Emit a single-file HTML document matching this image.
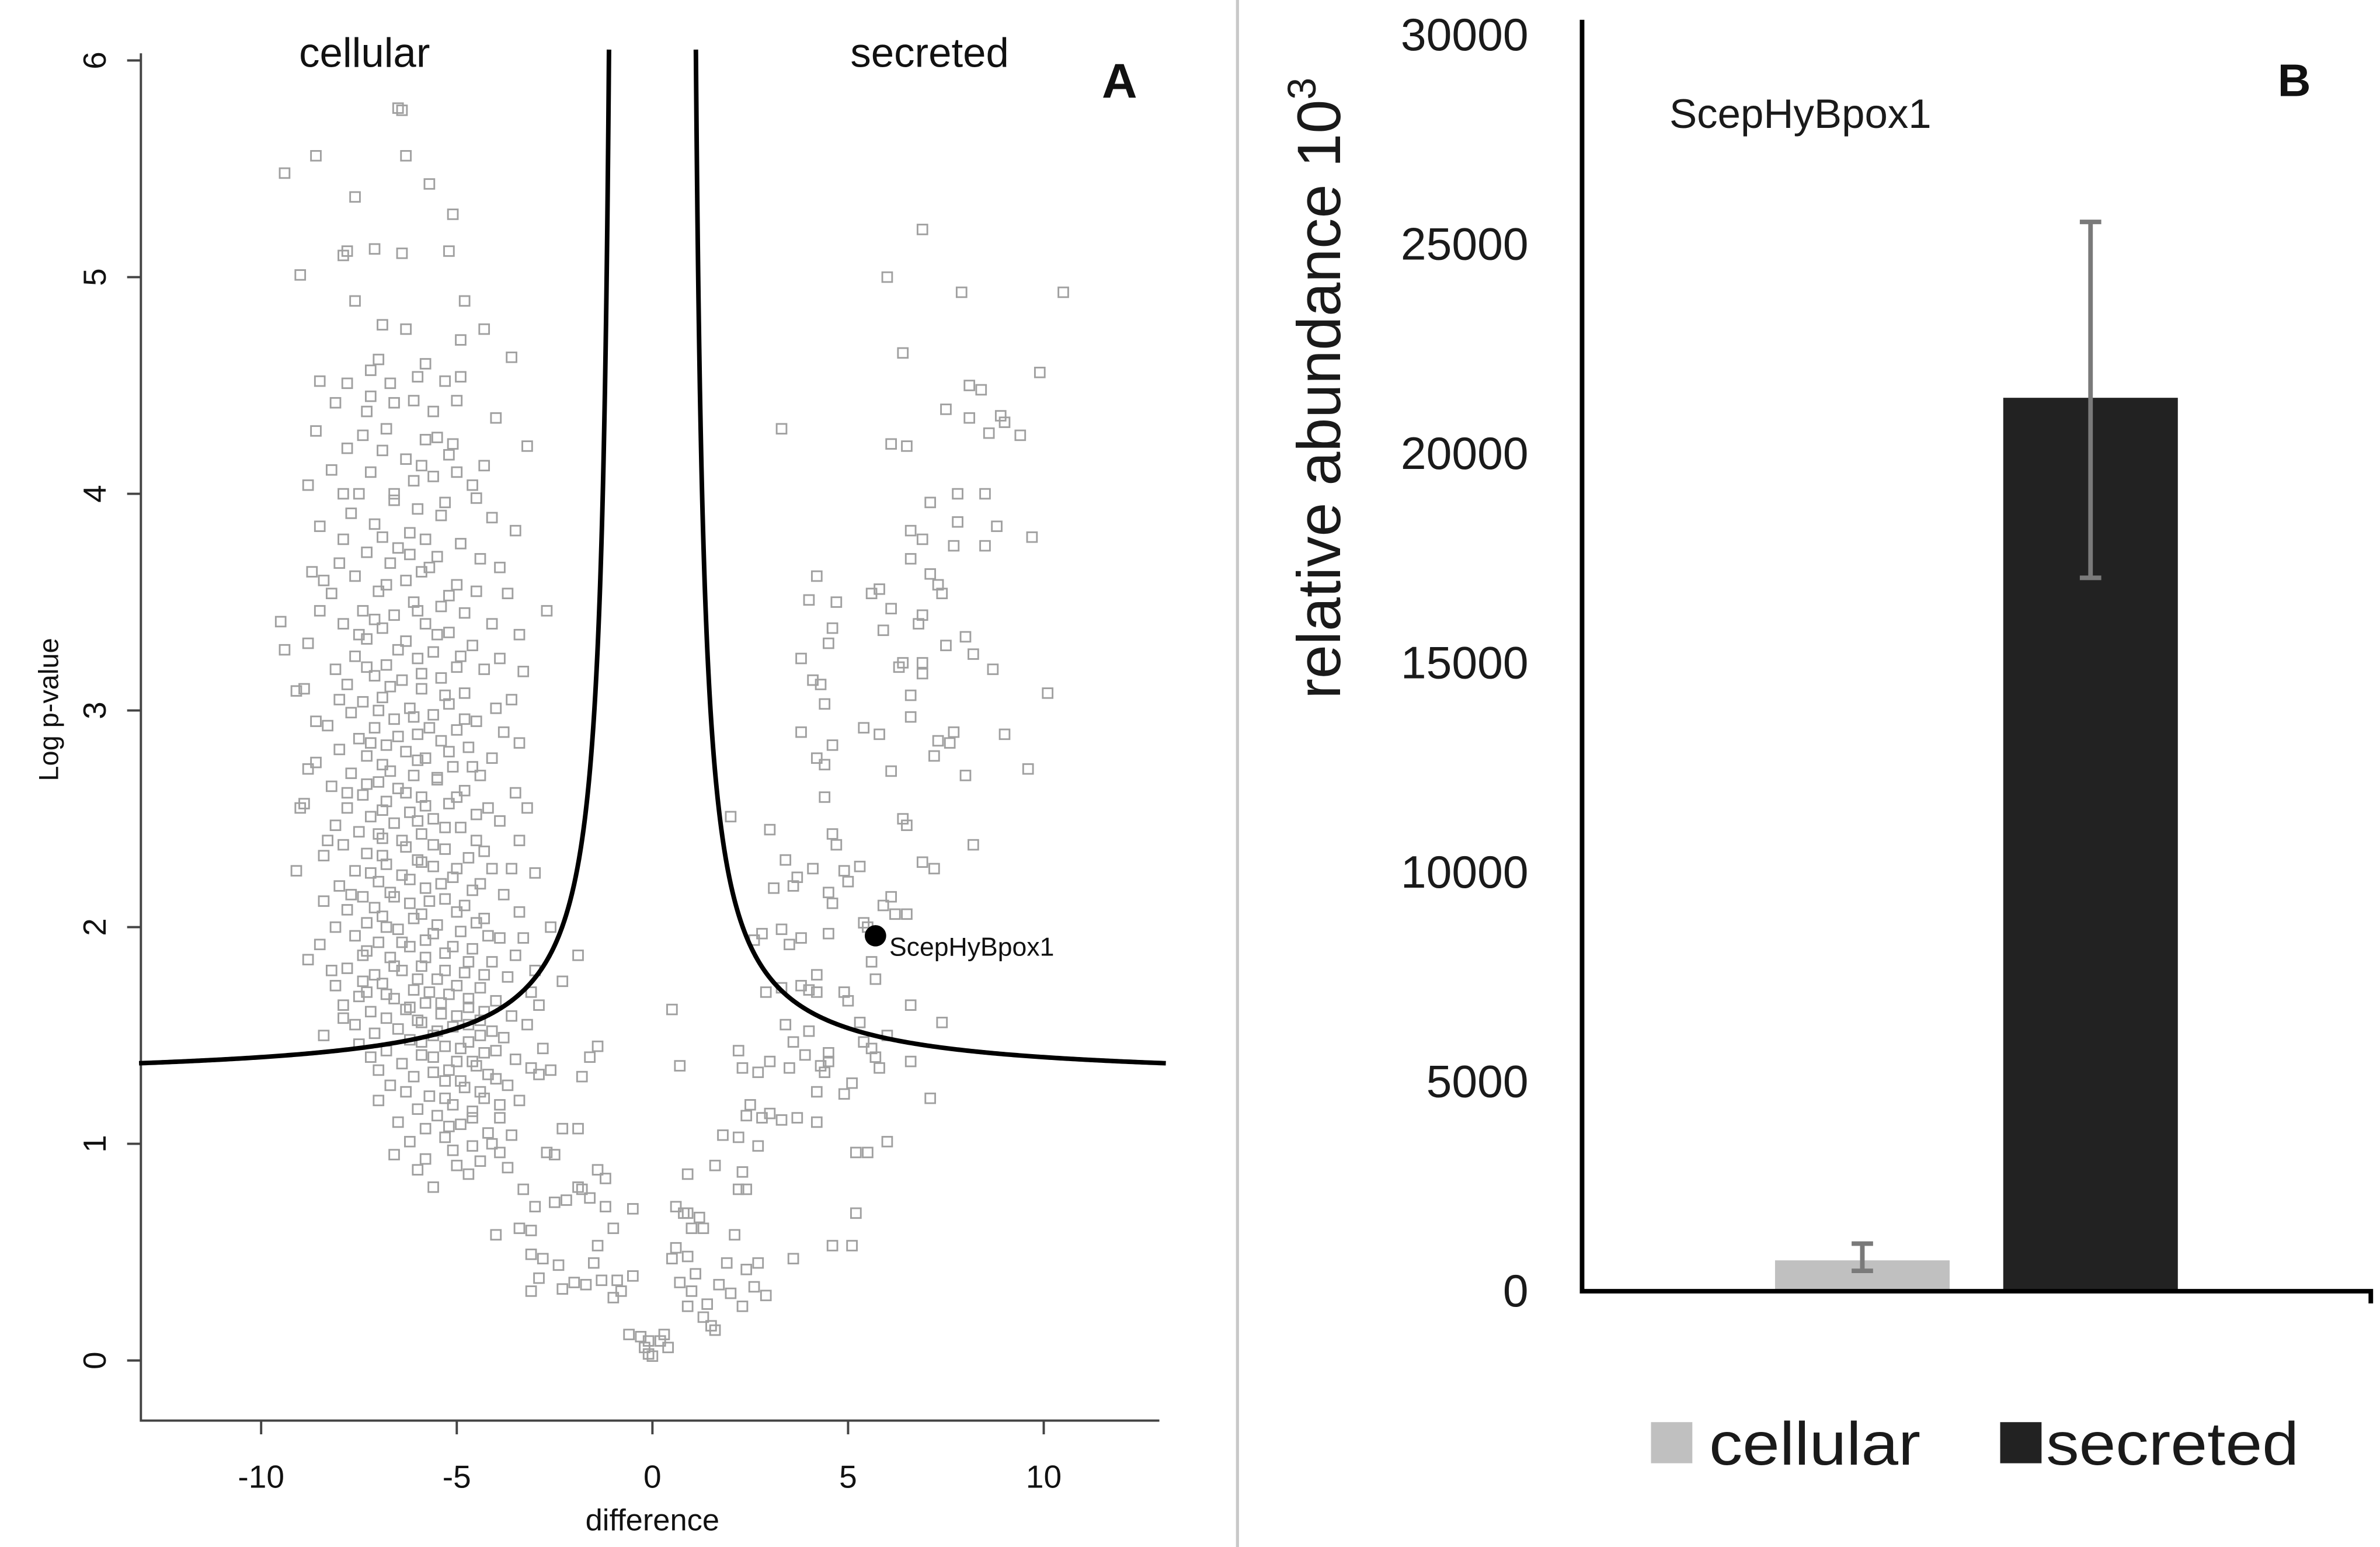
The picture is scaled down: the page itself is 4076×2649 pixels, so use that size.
<!DOCTYPE html>
<html><head><meta charset="utf-8">
<style>
html,body{margin:0;padding:0;background:#fff;}
svg{display:block;}
text{font-family:"Liberation Sans","DejaVu Sans",sans-serif;}
</style></head>
<body>
<svg id="fig" width="4076" height="2649" viewBox="0 0 1554 1016" preserveAspectRatio="none" xmlns="http://www.w3.org/2000/svg">
<rect width="1554" height="1016" fill="#fff"/>
<line x1="808" y1="0" x2="808" y2="1016" stroke="#c8c8c8" stroke-width="2"/>
<g id="panelA"></g>
<g id="panelB"></g>
</svg>
<script>
// ---------- Panel A data ----------
const xTicksA = [-10, -5, 0, 5, 10];
const yTicksA = [0, 1, 2, 3, 4, 5, 6];
const cellularPts = [
[-6.5,5.78],[-6.4,5.77],[-8.6,5.56],[-9.4,5.48],[-6.3,5.56],[-5.7,5.43],[-7.6,5.37],[-5.1,5.29],[-7.8,5.12],[-7.1,5.13],[-6.4,5.11],[-5.2,5.12],[-7.9,5.10],[-9.0,5.01],
[-4.8,4.89],[-7.6,4.89],[-6.9,4.78],[-6.3,4.76],[-4.3,4.76],[-4.9,4.71],[-3.6,4.63],[-7.0,4.62],[-7.2,4.57],[-5.8,4.60],[-6.0,4.54],[-8.5,4.52],[-6.7,4.51],[-5.3,4.52],[-4.9,4.54],[-7.8,4.51],[-6.1,4.43],[-5.0,4.43],[-8.1,4.42],[-6.6,4.42],[-5.6,4.38],[-7.3,4.38],
[-6.8,4.30],[-8.6,4.29],[-7.4,4.27],[-7.8,4.21],[-6.9,4.20],[-5.5,4.26],[-5.1,4.23],[-3.2,4.22],[-6.3,4.16],[-5.9,4.13],[-4.3,4.13],[-7.2,4.10],[-5.2,4.18],[-5.6,4.08],[-8.2,4.11],[-6.1,4.06],[-4.6,4.04],[-8.8,4.04],[-7.5,4.00],[-6.6,3.97],[-5.3,3.96],[-4.5,3.98],[-6.0,3.93],[-7.7,3.91],[-5.4,3.90],[-4.1,3.89],
[-7.1,3.86],[-6.2,3.82],[-8.5,3.85],[-6.9,3.80],[-5.8,3.79],[-7.9,3.79],[-3.5,3.83],[-4.9,3.77],[-6.5,3.75],[-7.3,3.73],[-5.5,3.71],[-4.4,3.70],[-6.7,3.68],[-8.0,3.68],[-3.9,3.66],[-5.9,3.64],[-7.6,3.62],[-8.7,3.64],[-6.3,3.60],[-5.0,3.58],[-4.5,3.55],[-7.0,3.55],[-8.2,3.54],[-3.7,3.54],[-6.1,3.50],[-5.4,3.48],[-7.4,3.46],[-4.8,3.45],[-6.6,3.44],[-8.5,3.46],[-2.7,3.46],
[-9.5,3.41],[-7.9,3.40],[-5.8,3.40],[-4.1,3.40],[-6.9,3.38],[-5.2,3.36],[-7.3,3.33],[-6.3,3.32],[-8.8,3.31],[-4.6,3.30],[-9.4,3.28],[-5.6,3.27],[-7.6,3.25],[-6.0,3.24],[-3.9,3.24],[-6.8,3.21],[-5.0,3.20],[-8.1,3.19],[-4.3,3.19],[-7.1,3.16],[-5.4,3.15],[-6.4,3.14],[-3.3,3.18],[-7.8,3.12],[-8.9,3.10],[-9.1,3.09],[-5.9,3.10],[-4.8,3.08],[-6.9,3.06],[-7.4,3.04],[-5.2,3.03],[-6.2,3.01],[-4.0,3.01],
[-7.7,2.99],[-5.6,2.98],[-6.6,2.96],[-4.5,2.95],[-8.3,2.93],[-7.1,2.92],[-5.0,2.91],[-6.0,2.89],[-3.8,2.90],[-7.5,2.87],[-5.4,2.86],[-6.8,2.84],[-4.7,2.83],[-8.0,2.82],[-6.3,2.81],[-7.3,2.79],[-5.8,2.78],[-4.1,2.78],[-8.6,2.76],[-6.9,2.75],[-5.1,2.74],[-8.8,2.73],[-7.7,2.71],[-6.1,2.70],[-4.4,2.70],[-5.5,2.68],[-7.0,2.67],[-8.2,2.65],[-6.5,2.64],[-4.8,2.63],[-3.5,2.62],[-7.4,2.61],[-5.9,2.60],[-6.8,2.58],[-5.2,2.57],[-8.9,2.57],[-7.8,2.55],[-4.2,2.55],[-6.2,2.53],[-7.2,2.51],[-5.6,2.50],[-3.9,2.49],[-6.6,2.48],[-8.1,2.47],[-4.9,2.46],[-7.5,2.44],[-5.9,2.43],[-6.9,2.41],[-4.5,2.40],[-3.4,2.40],
[-7.9,2.38],[-6.3,2.37],[-5.3,2.36],[-7.3,2.34],[-8.4,2.33],[-4.7,2.32],[-6.0,2.31],[-6.8,2.29],[-5.6,2.28],[-4.1,2.27],[-9.1,2.26],[-7.6,2.26],[-3.6,2.27],[-6.4,2.24],[-5.1,2.23],[-7.0,2.21],[-4.4,2.20],[-8.0,2.19],[-5.8,2.18],[-6.7,2.16],[-3.8,2.15],[-7.4,2.14],[-5.3,2.13],[-8.4,2.12],[-6.2,2.11],[-4.8,2.10],[-7.8,2.08],[-3.4,2.07],[-5.9,2.06],[-6.9,2.05],[-4.3,2.04],[-7.3,2.02],[-5.5,2.01],[-8.1,2.00],[-2.6,2.00],[-6.5,1.99],[-4.9,1.98],[-7.6,1.96],[-3.9,1.95],[-5.8,1.94],[-7.0,1.93],[-8.5,1.92],[-6.2,1.91],[-4.6,1.90],[-5.3,1.88],[-7.4,1.87],[-3.5,1.87],[-6.7,1.86],[-8.8,1.85],[-4.1,1.84],[-5.9,1.82],[-7.8,1.81],[-6.4,1.80],[-4.8,1.79],[-7.1,1.78],[-3.7,1.77],[-5.5,1.76],[-6.9,1.74],[-8.1,1.73],[-4.4,1.72],[-6.1,1.71],[-3.1,1.70],[-5.2,1.69],[-7.5,1.68],[-6.6,1.67],[-4.0,1.66],[-5.8,1.65],[-7.9,1.64],[-2.9,1.64],[-4.7,1.63],[-6.3,1.62],[-7.2,1.61],[-5.4,1.60],[-3.6,1.59],[-6.8,1.58],[-4.4,1.57],[-5.9,1.56],[-7.6,1.55],[-3.2,1.55],[-5.1,1.54],[-6.5,1.53],[-4.1,1.52],[-7.1,1.51],[-5.6,1.50],[-8.4,1.50],[-3.8,1.49],[-6.2,1.48],[-4.7,1.47],[-7.5,1.46],[-5.3,1.45],[-2.8,1.44],
[-6.8,1.43],[-4.3,1.42],[-5.9,1.41],[-7.2,1.40],[-3.5,1.39],[-5.0,1.38],[-6.4,1.37],[-4.5,1.36],[-7.0,1.34],[-3.1,1.35],[-5.6,1.33],[-6.1,1.31],[-4.0,1.30],[-5.3,1.29],[-6.7,1.27],[-3.7,1.27],[-4.8,1.26],[-6.3,1.24],[-5.7,1.22],[-4.3,1.21],[-7.0,1.20],[-3.4,1.20],[-5.1,1.18],[-6.0,1.16],[-4.6,1.15],[-5.5,1.13],[-3.9,1.12],[-6.5,1.10],[-4.9,1.09],[-5.8,1.07],[-4.2,1.05],[-3.6,1.04],[-5.3,1.03],[-6.2,1.01],[-4.6,0.99],[-5.1,0.97],[-3.9,0.96],[-6.6,0.95],[-5.8,0.93],[-4.4,0.92],[-5.0,0.90],[-3.7,0.89],[-6.0,0.88],[-4.7,0.86],[-5.6,0.80],[-3.3,0.79]
];
const cellularPts2 = [
[-6.2,3.72],[-5.7,3.66],[-6.8,3.58],[-5.2,3.53],[-6.0,3.46],[-7.1,3.42],[-5.5,3.35],[-6.5,3.28],[-4.9,3.25],[-7.3,3.20],[-5.9,3.17],[-6.7,3.11],[-5.3,3.07],[-7.0,3.00],[-6.1,2.97],[-4.8,2.96],[-5.7,2.92],[-6.5,2.88],[-7.2,2.85],[-5.2,2.81],[-6.0,2.77],[-4.6,2.74],[-6.7,2.72],[-5.5,2.69],[-7.3,2.66],[-6.3,2.62],[-5.0,2.60],[-5.8,2.56],[-6.9,2.54],[-4.5,2.52],[-6.0,2.49],[-5.3,2.46],[-7.0,2.43],[-6.4,2.40],[-5.6,2.38],[-4.3,2.35],[-6.9,2.33],[-5.9,2.30],[-5.0,2.27],[-7.2,2.25],[-6.2,2.22],[-5.4,2.20],[-4.6,2.17],[-6.6,2.14],[-5.7,2.12],[-7.1,2.09],[-5.0,2.07],[-6.1,2.04],[-4.5,2.02],[-6.8,2.00],[-5.6,1.97],[-4.2,1.96],[-6.4,1.93],[-5.1,1.91],[-7.3,1.89],[-5.8,1.86],[-4.7,1.84],[-6.6,1.82],[-5.3,1.80],[-4.3,1.78],[-6.0,1.76],[-7.4,1.75],[-5.0,1.73],[-5.7,1.70],[-6.8,1.69],[-4.7,1.67],[-5.4,1.65],[-6.2,1.63],[-4.3,1.61],[-5.0,1.59],[-6.0,1.57],[-4.7,1.55],[-5.5,1.52],[-4.4,1.50],[-5.9,1.47],[-4.9,1.44],[-4.0,1.43],[-5.6,1.40],[-4.6,1.38],[-5.2,1.34],[-4.2,1.32],[-4.9,1.29],[-4.4,1.24],[-5.3,1.21],[-3.9,1.18],[-4.6,1.12],[-5.2,1.08],[-4.1,1.00],
[-7.5,3.35],[-8.0,3.05],[-7.8,2.62],[-8.3,2.40],[-7.7,2.15],[-8.2,1.80],[-7.3,1.70],[-7.9,1.58],[-3.4,2.85],[-3.2,2.55],[-3.0,2.25],[-3.3,1.95],[-3.0,1.80],[-3.6,3.05],[-3.4,3.35],[-8.6,2.95],[-9.0,2.55],[-8.4,3.60],[-7.9,4.00],[-4.0,4.35],[-6.6,4.00],[-5.0,4.10],[-7.2,4.45],[-5.8,4.25]
];
const secretedPts = [
[6.9,5.22],[6.0,5.00],[10.5,4.93],[7.9,4.93],[6.4,4.65],[9.9,4.56],[8.1,4.50],[8.4,4.48],[7.5,4.39],[8.9,4.36],[9.0,4.33],[8.1,4.35],[3.3,4.30],[9.4,4.27],[8.6,4.28],[6.1,4.23],[6.5,4.22],
[7.1,3.96],[7.8,4.00],[8.5,4.00],[7.8,3.87],[8.8,3.85],[6.6,3.83],[7.7,3.76],[8.5,3.76],[9.7,3.80],[6.9,3.79],[7.1,3.63],[7.3,3.58],[4.2,3.62],[6.6,3.70],[5.8,3.56],[5.6,3.54],[7.4,3.54],[4.0,3.51],[4.7,3.50],[6.1,3.47],[6.9,3.44],[6.8,3.40],[4.6,3.38],[5.9,3.37],[8.0,3.34],[7.5,3.30],[4.5,3.31],[8.2,3.26],[6.4,3.22],[3.8,3.24],[6.9,3.22],[6.3,3.20],[8.7,3.19],[6.9,3.17],[4.1,3.14],[4.3,3.12],[6.6,3.07],[10.1,3.08],[4.4,3.03],[6.6,2.97],[5.4,2.92],[5.8,2.89],[3.8,2.90],[9.0,2.89],[7.7,2.90],[7.3,2.86],[7.6,2.85],[4.6,2.84],[7.2,2.79],[4.2,2.78],[4.4,2.75],[6.1,2.72],[8.0,2.70],[9.6,2.73],[4.4,2.60],[2.0,2.51],[6.4,2.50],[6.5,2.47],[3.0,2.45],[4.6,2.43],[4.7,2.38],[8.2,2.38],[6.9,2.30],[3.4,2.31],[5.3,2.28],[4.1,2.27],[4.9,2.26],[7.2,2.27],[5.0,2.21],[3.6,2.19],[3.1,2.18],[4.5,2.16],[3.7,2.23],[6.1,2.14],[5.9,2.10],[4.6,2.11],[6.2,2.06],[6.5,2.06],[5.4,2.02],[5.5,2.00],[2.8,1.97],[3.3,1.99],[4.5,1.97],[2.6,1.94],[3.8,1.95],[3.5,1.92],[5.6,1.84],[4.2,1.78],[5.7,1.76],[3.8,1.73],[3.3,1.72],[4.0,1.71],[2.9,1.70],[4.2,1.70],[4.9,1.70],[5.0,1.66],[6.6,1.64],[5.3,1.56],[3.4,1.55],[7.4,1.56],[4.0,1.52],[5.4,1.47],[6.0,1.50],[3.6,1.47],[4.5,1.42],[5.6,1.44],[2.2,1.43],[3.9,1.41],[5.7,1.40],[3.0,1.38],[4.5,1.38],[5.8,1.35],[6.6,1.38],[4.3,1.36],[2.3,1.35],[3.5,1.35],[4.4,1.33],[2.7,1.33],[5.1,1.28],[4.2,1.24],[4.9,1.23],[7.1,1.21],[2.5,1.18],[3.0,1.14],[2.4,1.13],[3.7,1.12],[2.8,1.12],[3.3,1.11],[4.2,1.10],[2.2,1.03],[6.0,1.01],[5.2,0.96],[5.5,0.96],[5.2,0.68],[4.6,0.53],[5.1,0.53],[3.6,0.47]
];
const centerPts = [
[-2.7,0.96],[-2.3,1.07],[-1.9,1.07],[-2.5,0.95],[-1.4,0.88],[-1.2,0.84],[-2.2,0.74],[-1.9,0.80],[-1.8,0.79],[-1.6,0.75],[-3.0,0.71],[-2.5,0.73],[-1.2,0.71],[-3.4,0.61],[-3.1,0.60],[-4.0,0.58],[-0.5,0.70],[-1.0,0.61],[-0.5,0.39],[-1.5,0.45],[-1.4,0.53],[-2.8,0.47],[-3.1,0.49],[-2.4,0.44],[-1.3,0.37],[-0.9,0.37],[-2.0,0.36],[-1.7,0.35],[-2.3,0.33],[-2.9,0.38],[-3.1,0.32],[-1.0,0.29],[-0.8,0.32],[-0.3,0.11],[-0.6,0.12],[-0.1,0.09],[-0.2,0.06],[0.0,0.02],[-0.1,0.03],[0.2,0.09],[0.3,0.12],[0.4,0.06],[0.6,0.71],[1.0,0.61],[0.8,0.68],[1.2,0.66],[1.3,0.61],[0.5,0.47],[1.1,0.40],[0.9,0.48],[0.7,0.36],[1.0,0.32],[0.9,0.25],[1.4,0.26],[1.7,0.35],[1.3,0.20],[1.6,0.14],[1.5,0.16],[2.0,0.31],[2.3,0.25],[2.4,0.42],[2.6,0.34],[2.9,0.30],[2.1,0.58],[2.7,0.45],[1.9,0.45],[2.2,0.79],[2.4,0.79],[1.6,0.90],[1.8,1.04],[2.3,0.87],[2.7,0.99],[0.9,0.86],[0.5,1.62],[0.7,1.36],[0.9,0.68],[0.6,0.52],[-2.3,1.75],[-1.4,1.45],[-1.6,1.40],[-1.8,1.31],[-2.6,1.34],[-2.9,1.32],[-1.9,1.87]
];
const highlightPt = [5.7, 1.96];
const highlightLabel = "ScepHyBpox1";
const curveA = 1.29, curveB = 1.0, curveX0 = 0.9;

// ---------- Panel B data ----------
const barCategories = ["cellular", "secreted"];
const barValues = [700, 21300];
const barErrLow = [450, 17000];
const barErrHigh = [1100, 25500];
const barColors = ["#c0c0c0", "#222222"];
const yTicksB = [0, 5000, 10000, 15000, 20000, 25000, 30000];

const NS = "http://www.w3.org/2000/svg";
function mk(tag, attrs, parent, text){
  const e = document.createElementNS(NS, tag);
  for (const k in attrs) e.setAttribute(k, attrs[k]);
  if (text !== undefined) e.textContent = text;
  parent.appendChild(e);
  return e;
}
// ===== Panel A =====
const A = document.getElementById('panelA');
const ax = v => 426 + v * 25.55;
const ay = v => 893.5 - v * 142.3;
let e;
e = mk('path', {d:'M92,35 L92,933 L757,933', fill:'none', stroke:'#444', 'stroke-width':1.5}, A);


xTicksA.forEach(t => {
  e = mk('line', {x1:ax(t), y1:933, x2:ax(t), y2:942, stroke:'#444', 'stroke-width':1.5}, A);
  
  
  e = mk('text', {x:ax(t), y:977, 'font-size':21, 'text-anchor':'middle', fill:'#111'}, A, String(t));
  
  
});
yTicksA.forEach(t => {
  e = mk('line', {x1:83, y1:ay(t), x2:92, y2:ay(t), stroke:'#444', 'stroke-width':1.5}, A);
  
  
  e = mk('text', {x:0, y:0, 'font-size':21, 'text-anchor':'middle', fill:'#111', transform:`translate(69,${ay(t)}) rotate(-90)`}, A, String(t));
  
  
});
e = mk('text', {x:0, y:0, 'font-size':18, 'text-anchor':'middle', fill:'#111', transform:'translate(38,466) rotate(-90)'}, A, 'Log p-value');


e = mk('text', {x:426, y:1005, 'font-size':20, 'text-anchor':'middle', fill:'#111'}, A, 'difference');


e = mk('text', {x:238, y:44, 'font-size':27, 'text-anchor':'middle', fill:'#111'}, A, 'cellular');


e = mk('text', {x:607, y:44, 'font-size':27, 'text-anchor':'middle', fill:'#111'}, A, 'secreted');


e = mk('text', {x:731, y:64, 'font-size':32, 'font-weight':'bold', 'text-anchor':'middle', fill:'#111'}, A, 'A');


const pts = mk('g', {fill:'none', stroke:'#a0a0a0', 'stroke-width':1.1}, A);


[cellularPts, cellularPts2, secretedPts, centerPts].forEach(arr => arr.forEach(p => {
  e = mk('rect', {x:ax(p[0]) - 3.2, y:ay(p[1]) - 3.2, width:6.4, height:6.4}, pts);
  
  
}));
function curvePath(sign){
  let d = '';
  let first = true;
  for (let i = 0; i <= 400; i++){
    const xv = curveX0 + 0.02 + Math.pow(i / 400, 2) * 12.2;
    const yv = curveA + curveB / (xv - curveX0);
    if (yv > 6.05) continue;
    d += (first ? 'M' : 'L') + ax(sign * xv).toFixed(2) + ',' + ay(yv).toFixed(2);
    first = false;
  }
  const xTop = curveX0 + curveB / (6.05 - curveA);
  d = 'M' + ax(sign * xTop).toFixed(2) + ',' + ay(6.05).toFixed(2) + d.replace(/^M/, 'L');
  return d;
}
e = mk('path', {d:curvePath(-1), fill:'none', stroke:'#000', 'stroke-width':3}, A);


e = mk('path', {d:curvePath(1), fill:'none', stroke:'#000', 'stroke-width':3}, A);


e = mk('circle', {cx:ax(highlightPt[0]), cy:ay(highlightPt[1]), r:7, fill:'#000'}, A);


e = mk('text', {x:ax(highlightPt[0]) + 9, y:ay(highlightPt[1]) + 13, 'font-size':17, fill:'#111'}, A, highlightLabel);



// ===== Panel B =====
const B = document.getElementById('panelB');
const by = v => 847 - v / 5000 * 137.5;
const barX = [1159, 1308];
const barW = 114;
yTicksB.forEach(t => {
  e = mk('text', {x:998, y:by(t) + 11, 'font-size':30, 'text-anchor':'end', fill:'#1a1a1a'}, B, String(t));
  
  
});
barValues.forEach((v, i) => {
  e = mk('rect', {x:barX[i], y:by(v), width:barW, height:by(0) - by(v), fill:barColors[i]}, B);
  
  
  const cx = barX[i] + barW / 2;
  e = mk('path', {d:`M${cx},${by(barErrLow[i])} L${cx},${by(barErrHigh[i])} M${cx-7},${by(barErrLow[i])} L${cx+7},${by(barErrLow[i])} M${cx-7},${by(barErrHigh[i])} L${cx+7},${by(barErrHigh[i])}`, stroke:'#7a7a7a', 'stroke-width':3, fill:'none'}, B);
  
  
});
e = mk('path', {d:'M1033,13 L1033,848 L1548,848 L1548,856', fill:'none', stroke:'#000', 'stroke-width':3}, B);


e = mk('text', {x:0, y:0, 'font-size':40, 'text-anchor':'middle', fill:'#1a1a1a', transform:'translate(875,255) rotate(-90)'}, B);


e.innerHTML = 'relative abundance 10<tspan dy="-16" font-size="26">3</tspan>';
e = mk('text', {x:1090, y:84, 'font-size':27, fill:'#1a1a1a'}, B, highlightLabel);


e = mk('text', {x:1498, y:63, 'font-size':30, 'font-weight':'bold', 'text-anchor':'middle', fill:'#111'}, B, 'B');


const legX = [1078, 1306], legTX = [1116, 1336];
barCategories.forEach((c, i) => {
  e = mk('rect', {x:legX[i], y:934, width:27, height:27, fill:barColors[i]}, B);
  
  
  e = mk('text', {x:legTX[i], y:962, 'font-size':40, fill:'#1a1a1a', textLength: i === 0 ? 138 : 165, lengthAdjust:'spacingAndGlyphs'}, B, c);
  
  
});
</script>
</body></html>
